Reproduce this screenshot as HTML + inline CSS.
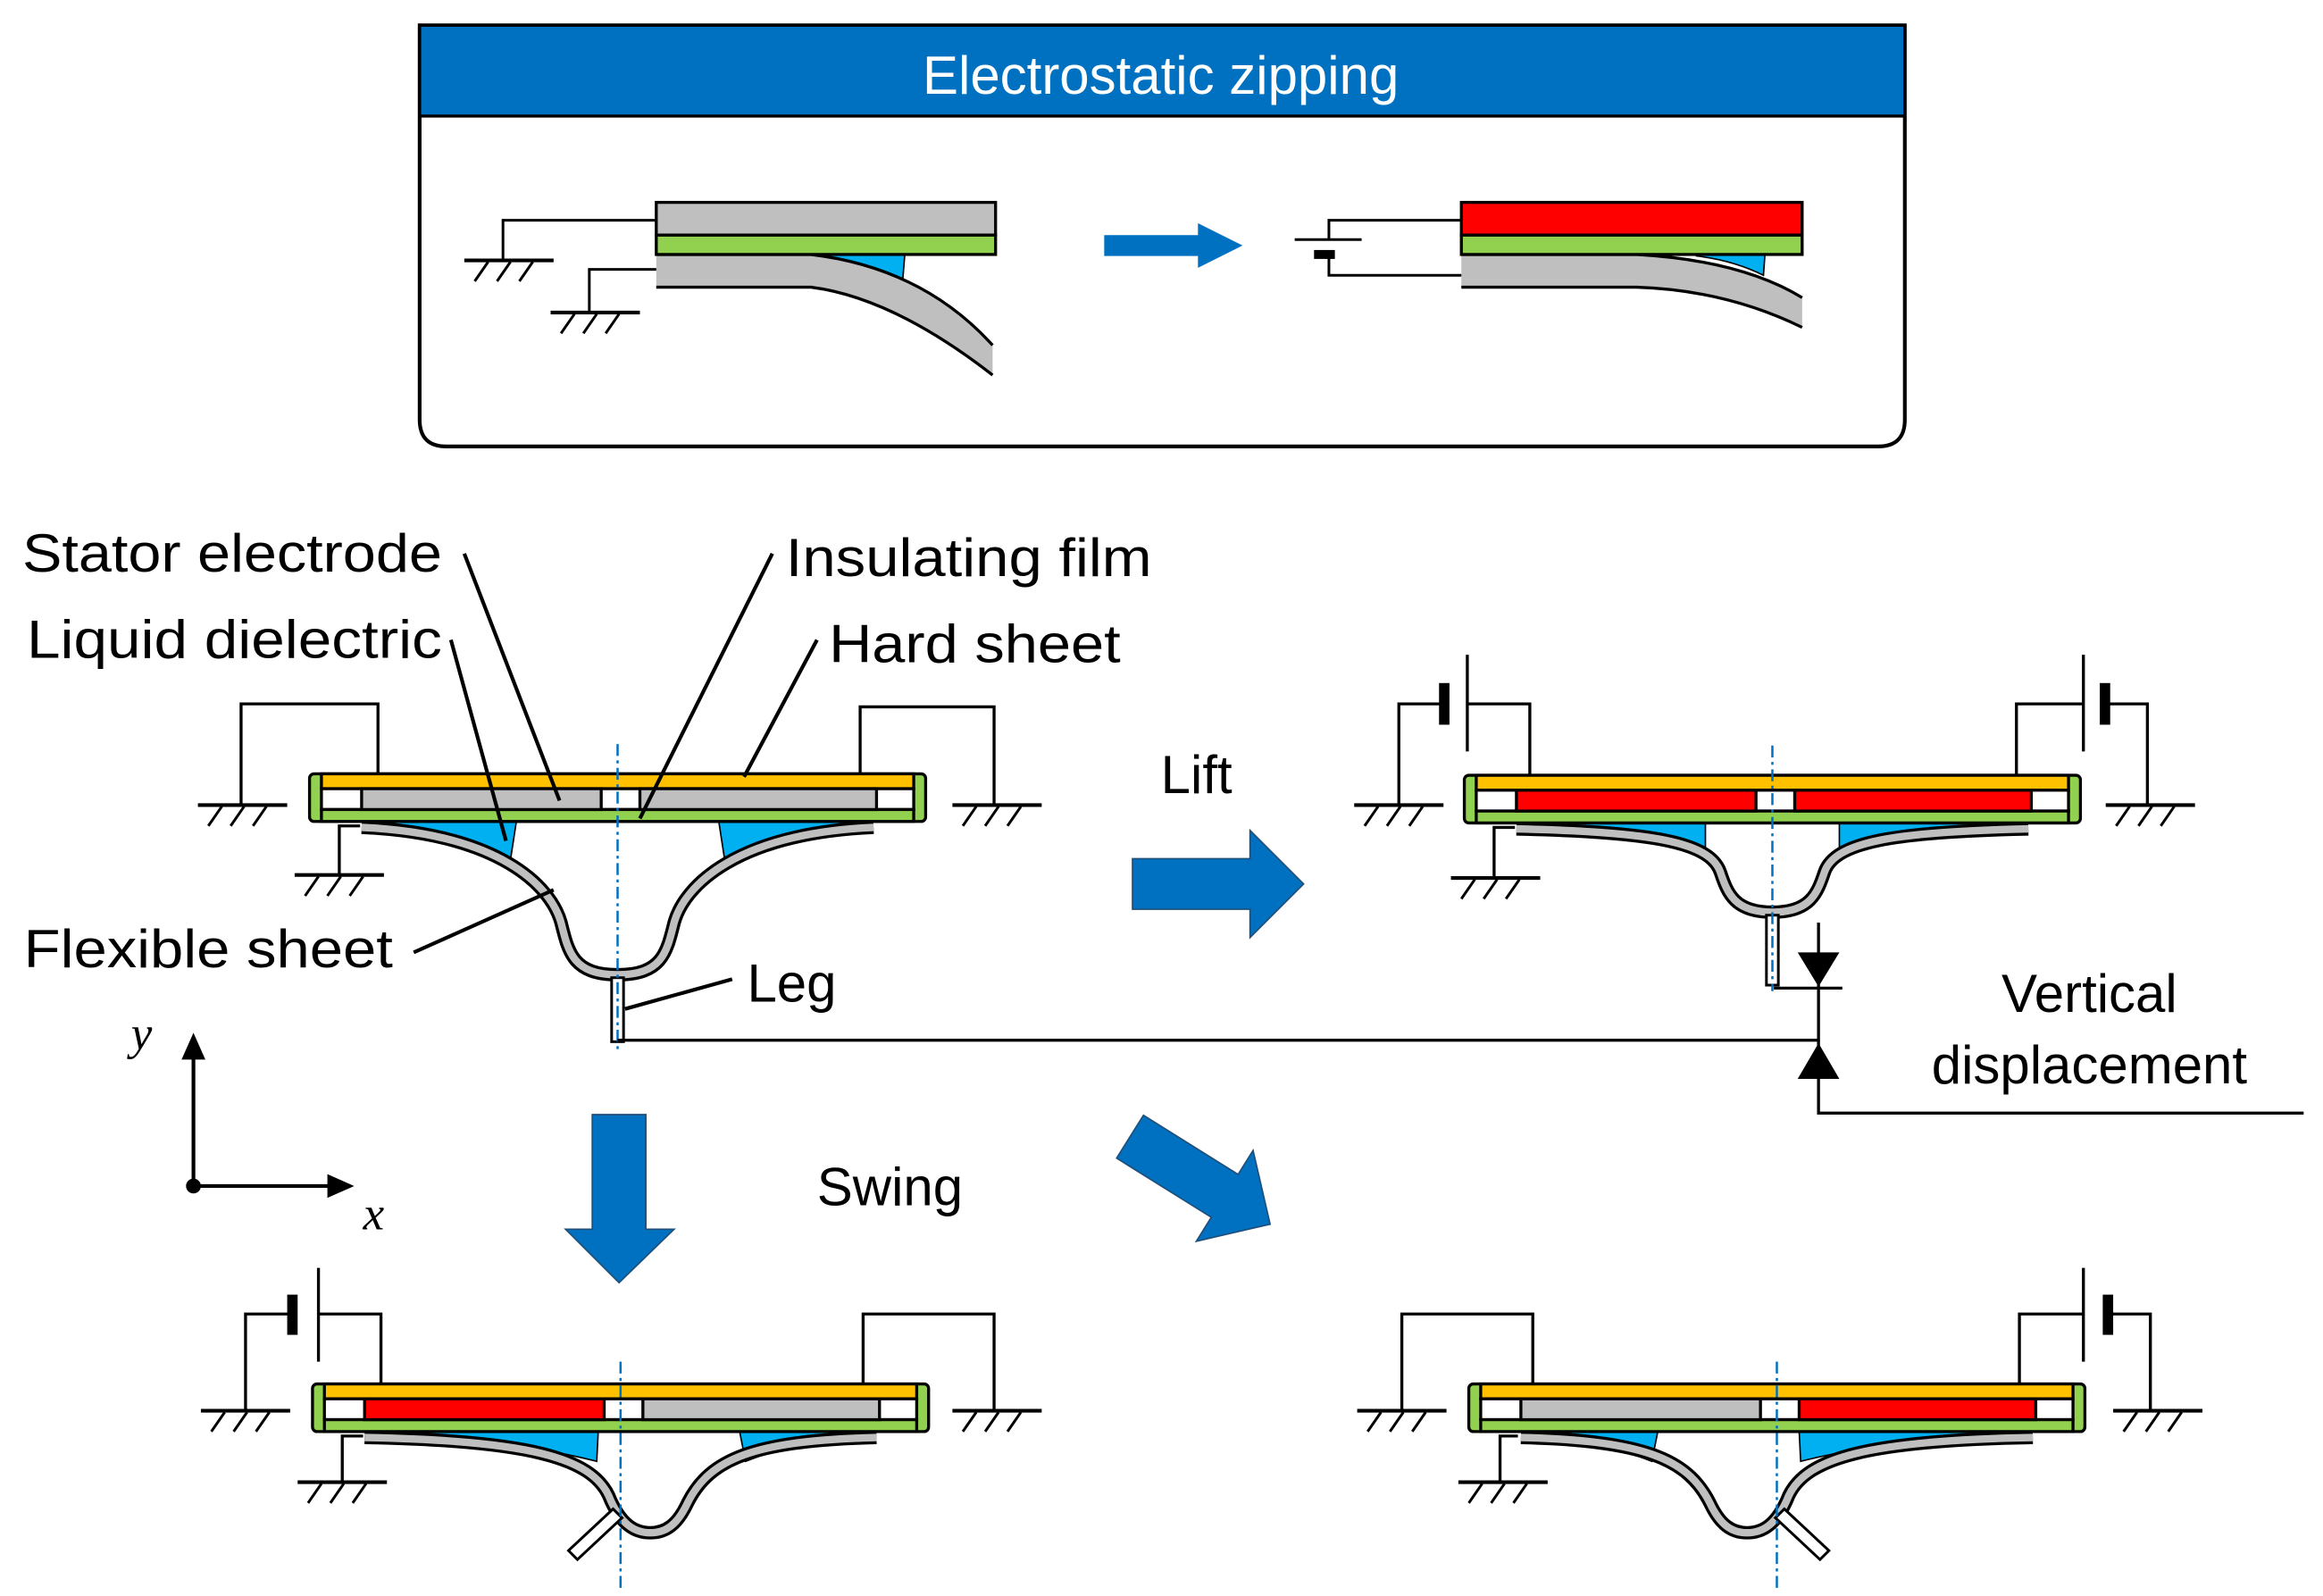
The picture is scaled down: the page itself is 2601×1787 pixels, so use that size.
<!DOCTYPE html>
<html><head><meta charset="utf-8"><style>html,body{margin:0;padding:0;background:#fff}svg{display:block}</style></head>
<body>
<svg width="2601" height="1787" viewBox="0 0 1561 1072.5" preserveAspectRatio="none" xmlns="http://www.w3.org/2000/svg" font-family="Liberation Sans, sans-serif">
<defs>
  <g id="gnd"><line x1="0" y1="0" x2="60" y2="0" stroke="#000" stroke-width="2.5"/><path d="M16 1 l-9 13 M31 1 l-9 13 M46 1 l-9 13" stroke="#000" stroke-width="1.8" fill="none"/></g>
  <g id="boxbase">
    <rect x="-207" y="0" width="414" height="32" rx="3" fill="#92D050" stroke="#000" stroke-width="2"/>
    <rect x="-199" y="0" width="398" height="10" fill="#FFC000" stroke="#000" stroke-width="2"/>
    <rect x="-199" y="10" width="398" height="14" fill="#fff" stroke="#000" stroke-width="2"/>
    <rect x="-199" y="24" width="398" height="8" fill="#92D050" stroke="#000" stroke-width="2"/>
  </g>
</defs>

<!-- Top panel -->
<path d="M282 17 H1280 V282 Q1280 300 1262 300 H300 Q282 300 282 282 Z" fill="#fff" stroke="#000" stroke-width="2.5"/>
<rect x="282" y="17" width="998" height="61" fill="#0070C0" stroke="#000" stroke-width="2"/>
<text x="780" y="63" font-size="36" fill="#fff" text-anchor="middle">Electrostatic zipping</text>

<!-- top left zipping -->
<path d="M545 171 L608 171 L606 196 Q580 180 545 172 Z" fill="#00B0F0" stroke="#000" stroke-width="1"/>
<path d="M441 171 L545 171 Q620 180 667 232 L667 252 Q600 200 545 193 L441 193 Z" fill="#BFBFBF"/>
<path d="M441 171 L545 171 Q620 180 667 232 M441 193 L545 193 Q600 200 667 252" fill="none" stroke="#000" stroke-width="2"/>
<rect x="441" y="136" width="228" height="22" fill="#BFBFBF" stroke="#000" stroke-width="2"/>
<rect x="441" y="158" width="228" height="13" fill="#92D050" stroke="#000" stroke-width="2"/>
<path d="M441 148 H338 V175 M441 181 H396 V210" fill="none" stroke="#000" stroke-width="1.8"/>
<use href="#gnd" x="312" y="175" transform="scale(1)"/>
<use href="#gnd" x="370" y="210"/>
<!-- arrow -->
<path d="M742 158 H805 V150 L835 165 L805 180 V172 H742 Z" fill="#0070C0"/>
<!-- top right -->
<path d="M1140 171 L1186 171 L1185 185 Q1165 175 1140 172 Z" fill="#00B0F0" stroke="#000" stroke-width="1"/>
<path d="M982 171 L1100 171 Q1170 175 1211 200 L1211 220 Q1160 195 1100 193 L982 193 Z" fill="#BFBFBF"/>
<path d="M982 171 L1100 171 Q1170 175 1211 200 M982 193 L1100 193 Q1160 195 1211 220" fill="none" stroke="#000" stroke-width="2"/>
<rect x="982" y="136" width="229" height="22" fill="#FF0000" stroke="#000" stroke-width="2"/>
<rect x="982" y="158" width="229" height="13" fill="#92D050" stroke="#000" stroke-width="2"/>
<path d="M982 148 H893 V161 M870 161 H915 M893 172 V185 H982" fill="none" stroke="#000" stroke-width="1.8"/>
<rect x="883" y="168" width="14" height="6" fill="#000"/>

<!-- Device 1 -->
<g transform="translate(415,520)">
  <path d="M-150 32 L-68 32 L-72 58 Q-110 40 -150 37 Z" fill="#00B0F0" stroke="#000" stroke-width="1"/>
  <path d="M150 32 L68 32 L72 58 Q110 40 150 37 Z" fill="#00B0F0" stroke="#000" stroke-width="1"/>
  <path d="M-172 36 C-80 40 -45 75 -38 100 C-33 120 -30 135 0 135 C30 135 33 120 38 100 C45 75 80 40 172 36" fill="none" stroke="#000" stroke-width="9"/>
  <path d="M-172 36 C-80 40 -45 75 -38 100 C-33 120 -30 135 0 135 C30 135 33 120 38 100 C45 75 80 40 172 36" fill="none" stroke="#BFBFBF" stroke-width="5"/>
  <rect x="-4" y="137" width="8" height="43" fill="#fff" stroke="#000" stroke-width="1.8"/>
  <use href="#boxbase"/>
  <rect x="-172" y="10" width="161" height="14" fill="#BFBFBF" stroke="#000" stroke-width="2"/>
  <rect x="15" y="10" width="159" height="14" fill="#BFBFBF" stroke="#000" stroke-width="2"/>
  <line x1="0" y1="-20" x2="0" y2="186" stroke="#0070C0" stroke-width="1.5" stroke-dasharray="8,3,2,3"/>
</g>
<path d="M254 520 V473 H162 V541 M578 520 V475 H668 V541 M242 555 H228 V588" fill="none" stroke="#000" stroke-width="2"/>
<use href="#gnd" x="133" y="541"/><use href="#gnd" x="640" y="541"/><use href="#gnd" x="198" y="588"/>

<!-- Device 2 (lift) -->
<g transform="translate(1191,521)">
  <path d="M-150 32 L-45 32 L-45 50 Q-100 38 -150 37 Z" fill="#00B0F0" stroke="#000" stroke-width="1"/>
  <path d="M150 32 L45 32 L45 50 Q100 38 150 37 Z" fill="#00B0F0" stroke="#000" stroke-width="1"/>
  <path d="M-172 36 C-80 38 -42 45 -35 65 C-30 80 -25 92 0 92 C25 92 30 80 35 65 C42 45 80 38 172 36" fill="none" stroke="#000" stroke-width="9"/>
  <path d="M-172 36 C-80 38 -42 45 -35 65 C-30 80 -25 92 0 92 C25 92 30 80 35 65 C42 45 80 38 172 36" fill="none" stroke="#BFBFBF" stroke-width="5"/>
  <rect x="-4" y="94" width="8" height="47" fill="#fff" stroke="#000" stroke-width="1.8"/>
  <use href="#boxbase"/>
  <rect x="-172" y="10" width="161" height="14" fill="#FF0000" stroke="#000" stroke-width="2"/>
  <rect x="15" y="10" width="159" height="14" fill="#FF0000" stroke="#000" stroke-width="2"/>
  <line x1="0" y1="-20" x2="0" y2="145" stroke="#0070C0" stroke-width="1.5" stroke-dasharray="8,3,2,3"/>
</g>
<path d="M1028 521 V473 H986 M970 473 H940 V541 M1355 521 V473 H1400 M1414 473 H1443 V541 M1018 556 H1004 V590" fill="none" stroke="#000" stroke-width="2"/>
<line x1="986" y1="440" x2="986" y2="505" stroke="#000" stroke-width="2"/><rect x="967" y="459" width="7" height="28" fill="#000"/>
<line x1="1400" y1="440" x2="1400" y2="505" stroke="#000" stroke-width="2"/><rect x="1411" y="459" width="7" height="28" fill="#000"/>
<use href="#gnd" x="910" y="541"/><use href="#gnd" x="1415" y="541"/><use href="#gnd" x="975" y="590"/>

<!-- Vertical displacement -->
<path d="M415 699 H1222 M1222 620 V748 H1548 M1192 664 H1238" fill="none" stroke="#000" stroke-width="2"/>
<path d="M1208 640 H1236 L1222 663 Z" fill="#000"/>
<path d="M1208 725 H1236 L1222 701 Z" fill="#000"/>
<text x="1404" y="680" font-size="36" text-anchor="middle">Vertical</text>
<text x="1404" y="728" font-size="36" text-anchor="middle">displacement</text>

<!-- Device 3 -->
<g transform="translate(417,930)">
  <path d="M-150 32 L-15 32 L-16 52 Q-80 36 -150 37 Z" fill="#00B0F0" stroke="#000" stroke-width="1"/>
  <path d="M150 32 L80 32 L84 52 Q120 38 150 37 Z" fill="#00B0F0" stroke="#000" stroke-width="1"/>
  <path d="M-172 36 C-60 38 -20 50 -8 75 C0 95 10 100 20 100 C30 100 38 95 45 80 C60 50 90 38 172 36" fill="none" stroke="#000" stroke-width="9"/>
  <path d="M-172 36 C-60 38 -20 50 -8 75 C0 95 10 100 20 100 C30 100 38 95 45 80 C60 50 90 38 172 36" fill="none" stroke="#BFBFBF" stroke-width="5"/>
  <path d="M-5 84 L-35 112 L-29 118 L1 90 Z" fill="#fff" stroke="#000" stroke-width="1.8"/>
  <use href="#boxbase"/>
  <rect x="-172" y="10" width="161" height="14" fill="#FF0000" stroke="#000" stroke-width="2"/>
  <rect x="15" y="10" width="159" height="14" fill="#BFBFBF" stroke="#000" stroke-width="2"/>
  <line x1="0" y1="-15" x2="0" y2="138" stroke="#0070C0" stroke-width="1.5" stroke-dasharray="8,3,2,3"/>
</g>
<path d="M256 930 V883 H214 M198 883 H165 V948 M580 930 V883 H668 V948 M244 965 H230 V996" fill="none" stroke="#000" stroke-width="2"/>
<line x1="214" y1="852" x2="214" y2="915" stroke="#000" stroke-width="2"/><rect x="193" y="870" width="7" height="27" fill="#000"/>
<use href="#gnd" x="135" y="948"/><use href="#gnd" x="640" y="948"/><use href="#gnd" x="200" y="996"/>

<!-- Device 4 -->
<g transform="translate(1194,930)">
  <path d="M-150 32 L-80 32 L-84 52 Q-120 38 -150 37 Z" fill="#00B0F0" stroke="#000" stroke-width="1"/>
  <path d="M150 32 L15 32 L16 52 Q80 36 150 37 Z" fill="#00B0F0" stroke="#000" stroke-width="1"/>
  <path d="M172 36 C60 38 20 50 8 75 C0 95 -10 100 -20 100 C-30 100 -38 95 -45 80 C-60 50 -90 38 -172 36" fill="none" stroke="#000" stroke-width="9"/>
  <path d="M172 36 C60 38 20 50 8 75 C0 95 -10 100 -20 100 C-30 100 -38 95 -45 80 C-60 50 -90 38 -172 36" fill="none" stroke="#BFBFBF" stroke-width="5"/>
  <path d="M5 84 L35 112 L29 118 L-1 90 Z" fill="#fff" stroke="#000" stroke-width="1.8"/>
  <use href="#boxbase"/>
  <rect x="-172" y="10" width="161" height="14" fill="#BFBFBF" stroke="#000" stroke-width="2"/>
  <rect x="15" y="10" width="159" height="14" fill="#FF0000" stroke="#000" stroke-width="2"/>
  <line x1="0" y1="-15" x2="0" y2="138" stroke="#0070C0" stroke-width="1.5" stroke-dasharray="8,3,2,3"/>
</g>
<path d="M1030 930 V883 H942 V948 M1357 930 V883 H1400 M1416 883 H1445 V948 M1020 965 H1008 V996" fill="none" stroke="#000" stroke-width="2"/>
<line x1="1400" y1="852" x2="1400" y2="915" stroke="#000" stroke-width="2"/><rect x="1413" y="870" width="7" height="27" fill="#000"/>
<use href="#gnd" x="912" y="948"/><use href="#gnd" x="1420" y="948"/><use href="#gnd" x="980" y="996"/>

<!-- Big arrows -->
<path d="M761 577 H840 V558 L876 594 L840 630 V611 H761 Z" fill="#0070C0" stroke="#1F4E79" stroke-width="1"/>
<path d="M398 749 H434 V826 H453 L416 862 L380 826 H398 Z" fill="#0070C0" stroke="#1F4E79" stroke-width="1"/>
<g transform="translate(806,793) rotate(32)">
  <path d="M-55 -17 H20 V-36 L56 0 L20 36 V17 H-55 Z" fill="#0070C0" stroke="#1F4E79" stroke-width="1"/>
</g>

<!-- Labels -->
<g font-size="36" fill="#000">
<text x="15" y="384" textLength="282" lengthAdjust="spacingAndGlyphs">Stator electrode</text>
<text x="18" y="442" textLength="279" lengthAdjust="spacingAndGlyphs">Liquid dielectric</text>
<text x="528" y="387" textLength="246" lengthAdjust="spacingAndGlyphs">Insulating film</text>
<text x="557" y="445" textLength="196" lengthAdjust="spacingAndGlyphs">Hard sheet</text>
<text x="16" y="650" textLength="248" lengthAdjust="spacingAndGlyphs">Flexible sheet</text>
<text x="502" y="673">Leg</text>
<text x="780" y="533">Lift</text>
<text x="549" y="810">Swing</text>
</g>
<path d="M312 372 L376 538 M303 430 L340 565 M519 372 L430 550 M549 430 L500 522 M278 640 L372 598 M492 658 L420 678" fill="none" stroke="#000" stroke-width="2.5"/>

<!-- Axes -->
<path d="M130 797 V710 M130 797 H222" stroke="#000" stroke-width="2.5" fill="none"/>
<path d="M122 712 L130 694 L138 712 Z M220 789 L238 797 L220 805 Z" fill="#000"/>
<circle cx="130" cy="797" r="5" fill="#000"/>
<text x="88" y="705" font-size="32" font-style="italic" font-family="Liberation Serif, serif">y</text>
<text x="244" y="826" font-size="32" font-style="italic" font-family="Liberation Serif, serif">x</text>
</svg>
</body></html>
